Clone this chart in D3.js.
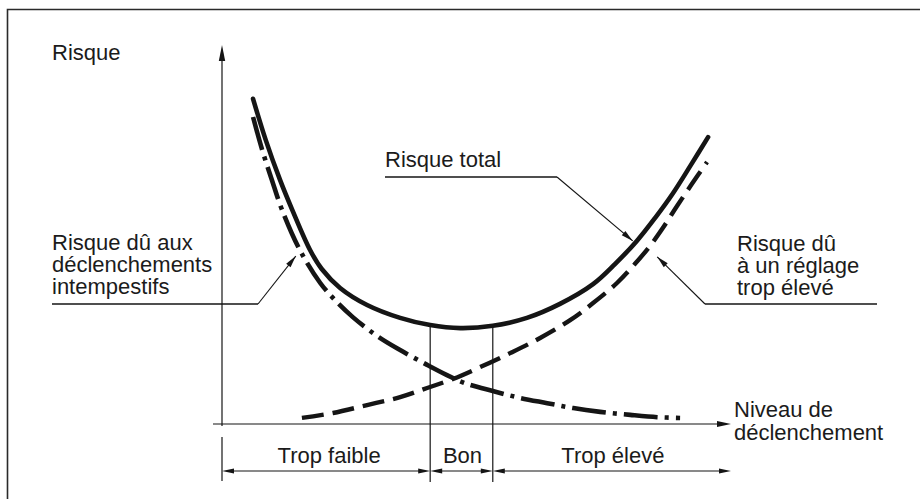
<!DOCTYPE html>
<html><head><meta charset="utf-8">
<script src="https://cdn.jsdelivr.net/npm/d3@7"></script>
<style>
body{margin:0;background:#fff}
svg{display:block}
text{font-family:"Liberation Sans",Arial,Helvetica,sans-serif;font-size:22px;fill:#1b1b1b}
</style>
</head><body>
<svg id="c" width="920" height="499"></svg>
<script>
// ---- data (abstract units: niveau 0..10, risque 0..10) ----
const totalLevel = [0.61,0.86,1.14,1.38,1.73,1.96,2.32,2.85,3.50,4.09,4.68,5.32,5.99,6.64,7.29,7.72,8.15,8.51,8.86,9.21,9.55];
const totalRisk  = [8.58,7.49,6.44,5.65,4.59,4.09,3.59,3.14,2.80,2.61,2.53,2.59,2.80,3.17,3.69,4.22,4.83,5.44,6.09,6.83,7.57];

const trippingLevel = [0.61,0.79,0.98,1.18,1.53,1.93,2.22,2.57,3.05,3.50,4.03,4.42,4.77,5.32,5.85,6.39,6.90,7.43,8.02,8.55,9.00];
const trippingRisk  = [8.10,7.23,6.44,5.65,4.59,3.72,3.27,2.82,2.32,1.95,1.56,1.29,1.08,0.87,0.69,0.55,0.42,0.32,0.24,0.18,0.16];

const settingLevel = [1.57,2.18,2.85,3.50,4.03,4.54,5.07,5.66,6.25,6.84,7.29,7.76,8.11,8.41,8.66,8.94,9.23,9.53];
const settingRisk  = [0.16,0.29,0.50,0.71,0.95,1.19,1.50,1.87,2.27,2.74,3.19,3.72,4.22,4.70,5.17,5.75,6.33,6.91];

const zoneBounds = [0, 4.09, 5.32, 10];
const zoneLabels = ["Trop faible", "Bon", "Trop élevé"];

const yAxisLabel = "Risque";
const xAxisLabel = ["Niveau de", "déclenchement"];
const totalLabel = ["Risque total"];
const trippingLabel = ["Risque dû aux", "déclenchements", "intempestifs"];
const settingLabel = ["Risque dû", "à un réglage", "trop élevé"];

// annotation anchor points (data units) where the leader arrows end
const totalTip = [8.07, 4.83];
const trippingTip = [1.45, 4.43];
const settingTip = [8.55, 4.41];

// ---- drawing ----
const svg = d3.select("#c");
const ink = "#151515";
const x = d3.scaleLinear().domain([0, 10]).range([222, 731]);
const y = d3.scaleLinear().domain([0, 10]).range([424, 45]);

svg.append("rect").attr("width", 920).attr("height", 499).attr("fill", "#fff");
// frame (only top and left edges fall inside the picture)
svg.append("path").attr("d", "M7.5,499V9.5H920")
  .attr("fill", "none").attr("stroke", "#2a2a2a").attr("stroke-width", 1.6);

function thin(x1, y1, x2, y2, w) {
  svg.append("line").attr("x1", x1).attr("y1", y1).attr("x2", x2).attr("y2", y2)
    .attr("stroke", ink).attr("stroke-width", w || 1.2);
}
function head(tx, ty, fx, fy, len, hw) {
  const a = Math.atan2(ty - fy, tx - fx);
  const bx = tx - len * Math.cos(a), by = ty - len * Math.sin(a);
  const px = -Math.sin(a) * hw, py = Math.cos(a) * hw;
  svg.append("path")
    .attr("d", `M${tx},${ty}L${bx + px},${by + py}L${bx - px},${by - py}Z`)
    .attr("fill", ink);
}

const dimY = 471, extBottom = 481;

// y axis
thin(x(0), y(10) + 8, x(0), y(0) + 2);
head(x(0), y(10), x(0), y(0), 16, 3.2);
thin(x(0), y(0) + 13, x(0), extBottom);
// x axis
thin(x(0) - 9, y(0), x(10) - 10, y(0));
head(x(10), y(0), x(0), y(0), 14, 3);

// zone boundaries (from total curve down)
const totalAt = d3.scaleLinear().domain(totalLevel).range(totalRisk);
[zoneBounds[1], zoneBounds[2]].forEach(v => {
  thin(x(v), y(totalAt(v)) + 2, x(v), extBottom + 1);
});

// dimension lines
zoneBounds.slice(0, -1).forEach((b, i) => {
  const a0 = x(b), a1 = x(zoneBounds[i + 1]);
  thin(a0 + 8, dimY, a1 - 8, dimY);
  head(a0, dimY, a1, dimY, 12, 2.6);
  head(a1, dimY, a0, dimY, 12, 2.6);
  svg.append("text").attr("x", (a0 + a1) / 2 + (i === 0 ? 3 : 1)).attr("y", 463)
    .attr("text-anchor", "middle").text(zoneLabels[i]);
});

// curves
const line = d3.line().x(d => x(d[0])).y(d => y(d[1])).curve(d3.curveCatmullRom.alpha(0.5));
svg.append("path").datum(d3.zip(trippingLevel, trippingRisk)).attr("d", line)
  .attr("fill", "none").attr("stroke", ink).attr("stroke-width", 4.6)
  .attr("stroke-dasharray", "34 7 4 7");
svg.append("path").datum(d3.zip(settingLevel, settingRisk)).attr("d", line)
  .attr("fill", "none").attr("stroke", ink).attr("stroke-width", 4.4)
  .attr("stroke-dasharray", "22 9");
svg.append("path").datum(d3.zip(totalLevel, totalRisk)).attr("d", line)
  .attr("fill", "none").attr("stroke", ink).attr("stroke-width", 4.6)
  .attr("stroke-linecap", "round");

// labels
function lines(arr, x0, y0, dy) {
  arr.forEach((t, i) => svg.append("text").attr("x", x0).attr("y", y0 + i * dy).text(t));
}
lines([yAxisLabel], 52, 60, 0);
lines(xAxisLabel, 734, 417, 22.5);
lines(totalLabel, 385, 167, 0);
lines(trippingLabel, 52, 250, 22);
lines(settingLabel, 737, 251, 22);

// leaders
function leader(ux0, ux1, uy, elbowX, tip) {
  const tx = x(tip[0]), ty = y(tip[1]);
  thin(ux0, uy, ux1, uy, 1.3);
  thin(elbowX, uy, tx, ty, 1.1);
  head(tx, ty, elbowX, uy, 12, 2.8);
}
leader(385, 557, 177, 557, totalTip);
leader(52, 258, 304, 258, trippingTip);
leader(705, 877, 304, 705, settingTip);
</script>
</body></html>
